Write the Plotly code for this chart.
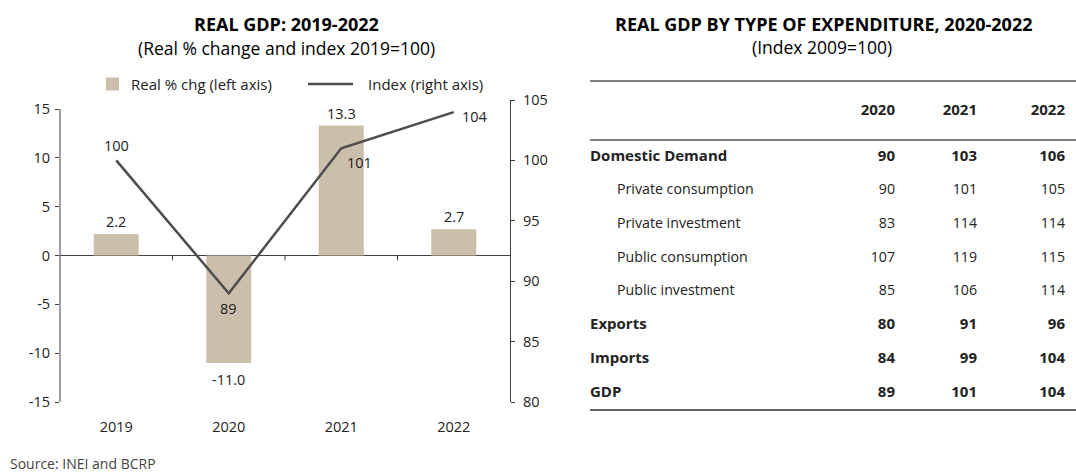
import plotly.graph_objects as go

# ---- data -------------------------------------------------------------
years = ["2019", "2020", "2021", "2022"]
real_pct_chg = [2.2, -11.0, 13.3, 2.7]          # left axis, bars
gdp_index = [100, 89, 101, 104]                 # right axis, line

left_ticks = [-15, -10, -5, 0, 5, 10, 15]
left_tick_text = ["-15", "-10", "-5", "0", "5", "10", "15"]
right_ticks = [80, 85, 90, 95, 100, 105]

table_cols = ["2020", "2021", "2022"]
table_rows = ["Domestic Demand", "Private consumption", "Private investment",
              "Public consumption", "Public investment", "Exports", "Imports", "GDP"]
row_is_total = [True, False, False, False, False, True, True, True]
val_2020 = [90, 90, 83, 107, 85, 80, 84, 89]
val_2021 = [103, 101, 114, 119, 106, 91, 99, 101]
val_2022 = [106, 105, 114, 115, 114, 96, 104, 104]

# ---- layout helpers ---------------------------------------------------
W, H = 1076, 473
FONT = "Open Sans"
BAR = "#CBBFAB"
LINE = "#4D4D4D"
AXIS = "#404040"
TXT = "#222222"
TICK = 14.5

# chart box in page pixels
X_L, X_R = 60, 510
Y_T, Y_B = 100, 402
PX_PER_PCT = (Y_B - 109) / 30.0      # left scale: -15 .. 15 spans 109..402


def px(x):
    return x / W


def py(y):
    return 1 - y / H


fig = go.Figure()

fig.add_trace(go.Bar(
    x=list(range(len(years))), y=real_pct_chg, name="Real % chg (left axis)",
    marker=dict(color=BAR, line=dict(width=0)), width=0.4,
    yaxis="y", xaxis="x", showlegend=False,
))
fig.add_trace(go.Scatter(
    x=list(range(len(years))), y=gdp_index, name="Index (right axis)", mode="lines",
    line=dict(color=LINE, width=2.5), yaxis="y2", xaxis="x", showlegend=False,
))

annotations = []

# bar value labels
for i, v in enumerate(real_pct_chg):
    annotations.append(dict(
        x=i, y=v, xref="x", yref="y", text=f"{v:.1f}", showarrow=False,
        xanchor="center", yanchor="bottom" if v >= 0 else "top",
        yshift=1 if v >= 0 else -5,
        font=dict(family=FONT, size=TICK, color=TXT),
    ))

# index labels, each nudged off its point
idx_offsets = [(0, 15, "center"), (0, -15, "center"), (18, -14, "center"), (6, -4, "left")]
for i, (v, (dx, dy, xa)) in enumerate(zip(gdp_index, idx_offsets)):
    annotations.append(dict(
        x=i, y=v, xref="x", yref="y2", text=f"{v}", showarrow=False,
        xanchor=xa, yanchor="middle", xshift=dx, yshift=dy,
        font=dict(family=FONT, size=TICK, color=TXT),
    ))


def label(x, y, text, size, color="#000", xanchor="center"):
    return dict(x=px(x), y=py(y), xref="paper", yref="paper", showarrow=False,
                xanchor=xanchor, yanchor="middle", text=text,
                font=dict(family=FONT, size=size, color=color))


annotations += [
    label(286, 24, "<b>REAL GDP: 2019-2022</b>", 18),
    label(286, 48, "(Real % change and index 2019=100)", 17.5),
    label(823, 24, "<b>REAL GDP BY TYPE OF EXPENDITURE, 2020-2022</b>", 18),
    label(822, 47, "(Index 2009=100)", 17.5),
    label(8, 463, "Source: INEI and BCRP", 14, "#444", "left"),
    # legend entries
    label(129, 84, "Real % chg (left axis)", 15, TXT, "left"),
    label(366, 84, "Index (right axis)", 15, TXT, "left"),
]

# ---- table (text traces on their own hidden axes) ---------------------
ROW_H = 33.7
ROW0 = 157.0


def ry(y_pixel):
    return (y_pixel - ROW0) / ROW_H


header_y = ry(111)
label_x, indent_x = 590, 617
col_right = [895, 977, 1065]


def cell_font(bold):
    return dict(family=FONT, size=15 if bold else 14.2, color=TXT)


rows_idx = list(range(len(table_rows)))
for bold in (True, False):
    sel = [i for i, t in enumerate(row_is_total) if t == bold]
    fig.add_trace(go.Scatter(
        x=[label_x if bold else indent_x] * len(sel), y=[rows_idx[i] for i in sel],
        text=[f"<b>{table_rows[i]}</b>" if bold else table_rows[i] for i in sel],
        mode="text", textposition="middle right", textfont=cell_font(bold),
        xaxis="x3", yaxis="y3", showlegend=False, hoverinfo="skip",
    ))
    for col, xr, vals in zip(table_cols, col_right, [val_2020, val_2021, val_2022]):
        ys = [rows_idx[i] for i in sel]
        txt = [f"<b>{vals[i]}</b>" if bold else f"{vals[i]}" for i in sel]
        if bold:
            ys = [header_y] + ys
            txt = [f"<b>{col}</b>"] + txt
        fig.add_trace(go.Scatter(
            x=[xr] * len(ys), y=ys, text=txt,
            mode="text", textposition="middle left", textfont=cell_font(bold),
            xaxis="x3", yaxis="y3", showlegend=False, hoverinfo="skip",
        ))

shapes = [
    # left axis line, spanning -15..15
    dict(type="line", xref="paper", yref="y", x0=px(X_L), x1=px(X_L), y0=-15, y1=15,
         line=dict(color=AXIS, width=1)),
    # legend swatches
    dict(type="rect", xref="paper", yref="paper", x0=px(106), x1=px(119),
         y0=py(90.5), y1=py(77.5), fillcolor=BAR, line=dict(width=0)),
    dict(type="line", xref="paper", yref="paper", x0=px(308), x1=px(353),
         y0=py(84), y1=py(84), line=dict(color=LINE, width=2.5)),
    # table rules
    dict(type="line", xref="x3", yref="y3", x0=590, x1=1076, y0=ry(81), y1=ry(81),
         line=dict(color="#808080", width=2)),
    dict(type="line", xref="x3", yref="y3", x0=590, x1=1076, y0=ry(140), y1=ry(140),
         line=dict(color="#808080", width=2)),
    dict(type="line", xref="x3", yref="y3", x0=590, x1=1076, y0=ry(410), y1=ry(410),
         line=dict(color="#333333", width=1.5)),
]
# category boundary ticks on the zero line
for b in [0.5, 1.5, 2.5]:
    shapes.append(dict(type="line", xref="x", yref="y", x0=b, x1=b, y0=0, y1=-0.5,
                       line=dict(color=AXIS, width=1)))

fig.update_layout(
    template="none",
    width=W, height=H, margin=dict(l=0, r=0, t=0, b=0, pad=0, autoexpand=False),
    paper_bgcolor="white", plot_bgcolor="white",
    font=dict(family=FONT, size=TICK, color=TXT),
    showlegend=False,
    xaxis=dict(domain=[px(X_L), px(X_R)], range=[-0.5, 3.5],
               tickvals=list(range(len(years))), ticktext=years,
               showline=False, ticks="", showgrid=False, zeroline=False,
               ticklabelstandoff=14, automargin=False,
               tickfont=dict(family=FONT, size=TICK, color=TXT), fixedrange=True),
    yaxis=dict(domain=[py(Y_B), py(Y_T)],
               range=[-15, 15 + (109 - Y_T) / PX_PER_PCT],
               tickvals=left_ticks, ticktext=left_tick_text,
               ticks="outside", ticklen=4, tickcolor=AXIS, ticklabelstandoff=2,
               showgrid=False, showline=False, automargin=False,
               zeroline=True, zerolinecolor=AXIS, zerolinewidth=1,
               tickfont=dict(family=FONT, size=TICK, color=TXT)),
    yaxis2=dict(overlaying="y", side="right", range=[80, 105],
                tickvals=right_ticks, ticks="outside", ticklen=4, ticklabelstandoff=5,
                tickcolor=AXIS, showline=True, linecolor=AXIS, linewidth=1,
                showgrid=False, zeroline=False, anchor="x", automargin=False,
                tickfont=dict(family=FONT, size=TICK, color=TXT)),
    xaxis3=dict(domain=[px(560), 1], range=[560, 1076], visible=False,
                fixedrange=True, automargin=False),
    yaxis3=dict(domain=[0, 1], range=[ry(473), ry(0)], visible=False, fixedrange=True,
                anchor="x3", automargin=False),
    annotations=annotations, shapes=shapes,
)

fig.write_html("out.html")
